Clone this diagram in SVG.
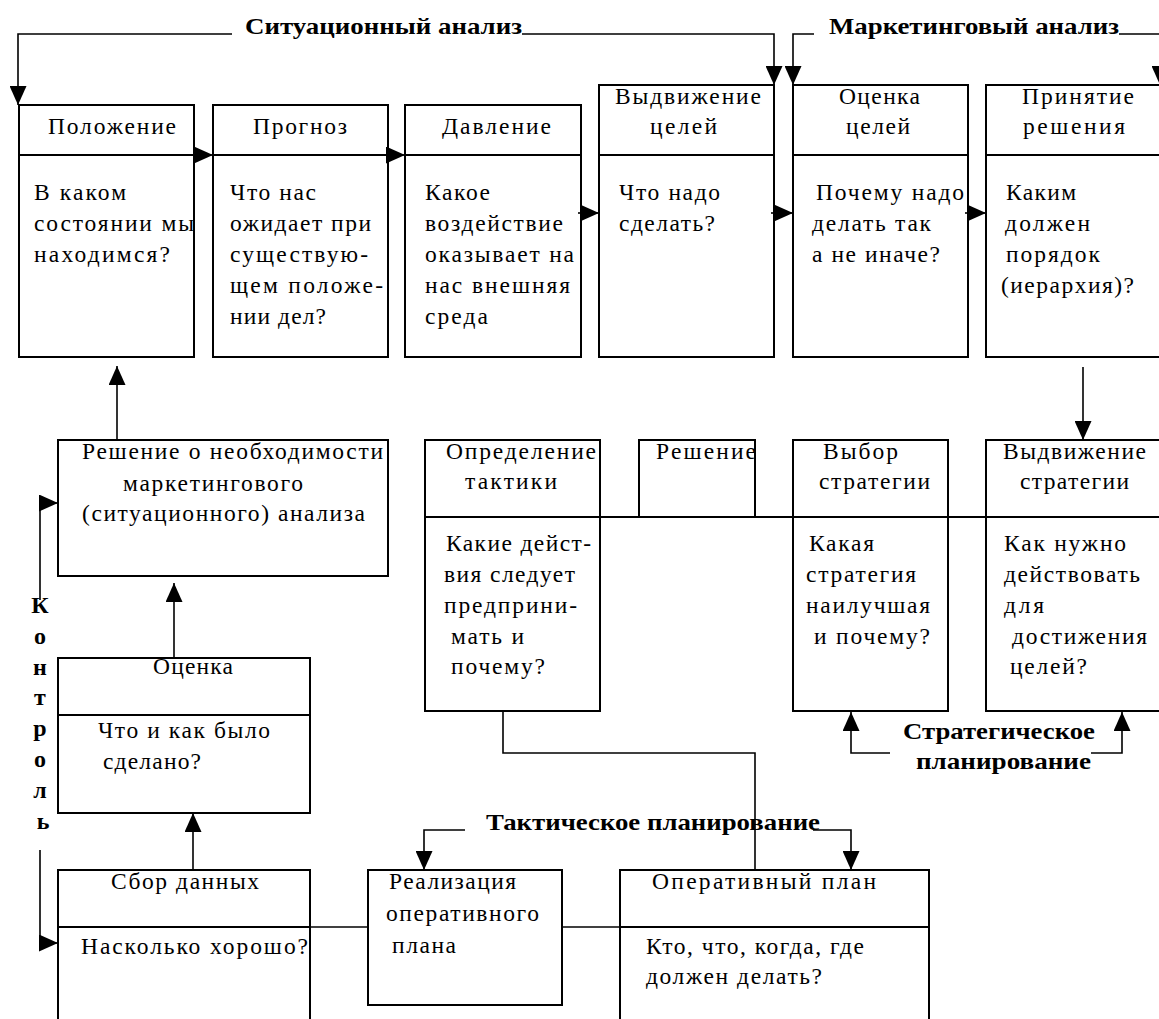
<svg xmlns="http://www.w3.org/2000/svg" width="1159" height="1019" viewBox="0 0 1159 1019">
<defs>
<marker id="ah" viewBox="0 0 19 17" refX="19" refY="8.5" markerWidth="19" markerHeight="17" markerUnits="userSpaceOnUse" orient="auto">
<path d="M0,0 L19,8.5 L0,17 Z" fill="#000"/>
</marker>
</defs>
<style>
.box{fill:#fff;stroke:#000;stroke-width:2}
.dv{stroke:#000;stroke-width:2;fill:none}
.cn{stroke:#000;stroke-width:1.6;fill:none}
.ar{stroke:#000;stroke-width:1.6;fill:none;marker-end:url(#ah)}
text{font-family:"Liberation Serif","Times New Roman",serif;font-size:23.5px;fill:#000}
.b{font-weight:bold;font-size:24px}
</style>
<rect width="1159" height="1019" fill="#fff"/>

<g id="n-polozhenie">
<rect class="box" x="19" y="105" width="175" height="252"/>
<line class="dv" x1="19" y1="155" x2="194" y2="155"/>
<text x="48" y="134" textLength="128" lengthAdjust="spacing">Положение</text>
<text x="34" y="200" textLength="92" lengthAdjust="spacing">В каком</text>
<text x="34" y="231" textLength="160" lengthAdjust="spacing">состоянии мы</text>
<text x="34" y="262" textLength="136" lengthAdjust="spacing">находимся?</text>
</g>

<g id="n-prognoz">
<rect class="box" x="213" y="105" width="175" height="252"/>
<line class="dv" x1="213" y1="155" x2="388" y2="155"/>
<text x="253" y="134" textLength="94" lengthAdjust="spacing">Прогноз</text>
<text x="230" y="200" textLength="86" lengthAdjust="spacing">Что нас</text>
<text x="230" y="231" textLength="141" lengthAdjust="spacing">ожидает при</text>
<text x="230" y="262" textLength="138" lengthAdjust="spacing">существую-</text>
<text x="230" y="293" textLength="153" lengthAdjust="spacing">щем положе-</text>
<text x="230" y="324" textLength="96" lengthAdjust="spacing">нии дел?</text>
</g>

<g id="n-davlenie">
<rect class="box" x="405" y="105" width="176" height="252"/>
<line class="dv" x1="405" y1="155" x2="581" y2="155"/>
<text x="442" y="134" textLength="109" lengthAdjust="spacing">Давление</text>
<text x="425" y="200" textLength="65" lengthAdjust="spacing">Какое</text>
<text x="425" y="231" textLength="138" lengthAdjust="spacing">воздействие</text>
<text x="425" y="262" textLength="149" lengthAdjust="spacing">оказывает на</text>
<text x="425" y="293" textLength="145" lengthAdjust="spacing">нас внешняя</text>
<text x="425" y="324" textLength="63" lengthAdjust="spacing">среда</text>
</g>

<g id="n-vydvizhenie-celey">
<rect class="box" x="599" y="85" width="175" height="272"/>
<line class="dv" x1="599" y1="155" x2="774" y2="155"/>
<text x="615" y="104" textLength="146" lengthAdjust="spacing">Выдвижение</text>
<text x="650" y="134" textLength="67" lengthAdjust="spacing">целей</text>
<text x="619" y="200" textLength="101" lengthAdjust="spacing">Что надо</text>
<text x="619" y="231" textLength="96" lengthAdjust="spacing">сделать?</text>
</g>

<g id="n-ocenka-celey">
<rect class="box" x="793" y="85" width="175" height="272"/>
<line class="dv" x1="793" y1="155" x2="968" y2="155"/>
<text x="839" y="104" textLength="81" lengthAdjust="spacing">Оценка</text>
<text x="846" y="134" textLength="64" lengthAdjust="spacing">целей</text>
<text x="816" y="200" textLength="148" lengthAdjust="spacing">Почему надо</text>
<text x="812" y="231" textLength="119" lengthAdjust="spacing">делать так</text>
<text x="812" y="262" textLength="128" lengthAdjust="spacing">а не иначе?</text>
</g>

<g id="n-prinyatie-resheniya">
<rect class="box" x="986" y="85" width="200" height="272"/>
<line class="dv" x1="986" y1="155" x2="1159" y2="155"/>
<text x="1022" y="104" textLength="112" lengthAdjust="spacing">Принятие</text>
<text x="1023" y="134" textLength="102" lengthAdjust="spacing">решения</text>
<text x="1006" y="200" textLength="70" lengthAdjust="spacing">Каким</text>
<text x="1005" y="231" textLength="85" lengthAdjust="spacing">должен</text>
<text x="1006" y="262" textLength="94" lengthAdjust="spacing">порядок</text>
<text x="1001" y="293" textLength="133" lengthAdjust="spacing">(иерархия)?</text>
</g>

<g id="n-reshenie-o-neobhodimosti">
<rect class="box" x="58" y="440" width="330" height="136"/>
<text x="82" y="459" textLength="301" lengthAdjust="spacing">Решение о необходимости</text>
<text x="123" y="491" textLength="180" lengthAdjust="spacing">маркетингового</text>
<text x="82" y="521" textLength="283" lengthAdjust="spacing">(ситуационного) анализа</text>
</g>

<g id="n-opredelenie-taktiki">
<rect class="box" x="425" y="440" width="175" height="271"/>
<line class="dv" x1="425" y1="517" x2="600" y2="517"/>
<text x="446" y="459" textLength="150" lengthAdjust="spacing">Определение</text>
<text x="465" y="489" textLength="92" lengthAdjust="spacing">тактики</text>
<text x="446" y="551" textLength="145" lengthAdjust="spacing">Какие дейст-</text>
<text x="444" y="582" textLength="131" lengthAdjust="spacing">вия следует</text>
<text x="444" y="613" textLength="133" lengthAdjust="spacing">предприни-</text>
<text x="451" y="644" textLength="73" lengthAdjust="spacing">мать и</text>
<text x="451" y="674" textLength="94" lengthAdjust="spacing">почему?</text>
</g>

<g id="n-reshenie">
<rect class="box" x="639" y="440" width="116" height="77"/>
<text x="656" y="459" textLength="100" lengthAdjust="spacing">Решение</text>
</g>

<g id="n-vybor-strategii">
<rect class="box" x="793" y="440" width="155" height="271"/>
<line class="dv" x1="793" y1="517" x2="948" y2="517"/>
<text x="823" y="459" textLength="75" lengthAdjust="spacing">Выбор</text>
<text x="819" y="489" textLength="111" lengthAdjust="spacing">стратегии</text>
<text x="809" y="551" textLength="65" lengthAdjust="spacing">Какая</text>
<text x="806" y="582" textLength="110" lengthAdjust="spacing">стратегия</text>
<text x="806" y="613" textLength="124" lengthAdjust="spacing">наилучшая</text>
<text x="814" y="644" textLength="116" lengthAdjust="spacing">и почему?</text>
</g>

<g id="n-vydvizhenie-strategii">
<rect class="box" x="986" y="440" width="200" height="271"/>
<line class="dv" x1="986" y1="517" x2="1159" y2="517"/>
<text x="1003" y="459" textLength="143" lengthAdjust="spacing">Выдвижение</text>
<text x="1020" y="489" textLength="109" lengthAdjust="spacing">стратегии</text>
<text x="1004" y="551" textLength="122" lengthAdjust="spacing">Как нужно</text>
<text x="1004" y="582" textLength="136" lengthAdjust="spacing">действовать</text>
<text x="1004" y="613" textLength="40" lengthAdjust="spacing">для</text>
<text x="1012" y="644" textLength="135" lengthAdjust="spacing">достижения</text>
<text x="1010" y="674" textLength="77" lengthAdjust="spacing">целей?</text>
</g>

<g id="n-ocenka">
<rect class="box" x="58" y="658" width="252" height="155"/>
<line class="dv" x1="58" y1="715" x2="310" y2="715"/>
<text x="153" y="674" textLength="80" lengthAdjust="spacing">Оценка</text>
<text x="98" y="738" textLength="172" lengthAdjust="spacing">Что и как было</text>
<text x="103" y="769" textLength="98" lengthAdjust="spacing">сделано?</text>
</g>

<g id="n-sbor-dannyh">
<rect class="box" x="58" y="870" width="252" height="200"/>
<line class="dv" x1="58" y1="927" x2="310" y2="927"/>
<text x="111" y="889" textLength="148" lengthAdjust="spacing">Сбор данных</text>
<text x="81" y="954" textLength="227" lengthAdjust="spacing">Насколько хорошо?</text>
</g>

<g id="n-realizaciya">
<rect class="box" x="368" y="870" width="194" height="135"/>
<text x="389" y="889" textLength="127" lengthAdjust="spacing">Реализация</text>
<text x="386" y="921" textLength="153" lengthAdjust="spacing">оперативного</text>
<text x="392" y="953" textLength="64" lengthAdjust="spacing">плана</text>
</g>

<g id="n-operativnyy-plan">
<rect class="box" x="620" y="870" width="309" height="200"/>
<line class="dv" x1="620" y1="927" x2="929" y2="927"/>
<text x="652" y="889" textLength="224" lengthAdjust="spacing">Оперативный  план</text>
<text x="646" y="954" textLength="218" lengthAdjust="spacing">Кто, что, когда, где</text>
<text x="646" y="984" textLength="176" lengthAdjust="spacing">должен делать?</text>
</g>

<g id="labels">
<text class="b" x="245" y="34" textLength="277" lengthAdjust="spacingAndGlyphs">Ситуационный анализ</text>
<text class="b" x="829" y="34" textLength="290" lengthAdjust="spacingAndGlyphs">Маркетинговый анализ</text>
<text class="b" x="486" y="830" textLength="334" lengthAdjust="spacingAndGlyphs">Тактическое планирование</text>
<text class="b" x="903" y="739" textLength="192" lengthAdjust="spacingAndGlyphs">Стратегическое</text>
<text class="b" x="916" y="769" textLength="175" lengthAdjust="spacingAndGlyphs">планирование</text>
<text class="b" text-anchor="middle">
<tspan x="43" y="613">К</tspan>
<tspan x="43" y="644">о</tspan>
<tspan x="43" y="675">н</tspan>
<tspan x="43" y="705">т</tspan>
<tspan x="43" y="736">р</tspan>
<tspan x="43" y="767">о</tspan>
<tspan x="43" y="798">л</tspan>
<tspan x="43" y="829">ь</tspan>
</text>
</g>

<g id="connectors">
<path class="ar" d="M232,34 H18 V105"/>
<path class="ar" d="M522,34 H774 V85"/>
<path class="ar" d="M814,34 H793 V85"/>
<path class="ar" d="M1119,34 H1160 V85"/>
<path class="ar" d="M191,155 H213"/>
<path class="ar" d="M385,155 H405"/>
<path class="ar" d="M578,213 H599"/>
<path class="ar" d="M771,213 H793"/>
<path class="ar" d="M965,213 H986"/>
<path class="ar" d="M117,440 V366"/>
<path class="ar" d="M174,658 V583"/>
<path class="ar" d="M40,600 V503 H58"/>
<path class="ar" d="M40,850 V943 H58"/>
<path class="ar" d="M193,870 V813"/>
<path class="ar" d="M1083,367 V440"/>
<path class="cn" d="M310,927 H368"/>
<path class="cn" d="M562,927 H620"/>
<path class="dv" d="M600,517 H639"/>
<path class="dv" d="M755,517 H793"/>
<path class="dv" d="M948,517 H986"/>
<path class="cn" d="M503,711 V753 H755 V870"/>
<path class="ar" d="M465,830 H424 V870"/>
<path class="ar" d="M813,830 H851 V870"/>
<path class="ar" d="M890,753 H851 V712"/>
<path class="ar" d="M1091,753 H1122 V712"/>
</g>
</svg>
